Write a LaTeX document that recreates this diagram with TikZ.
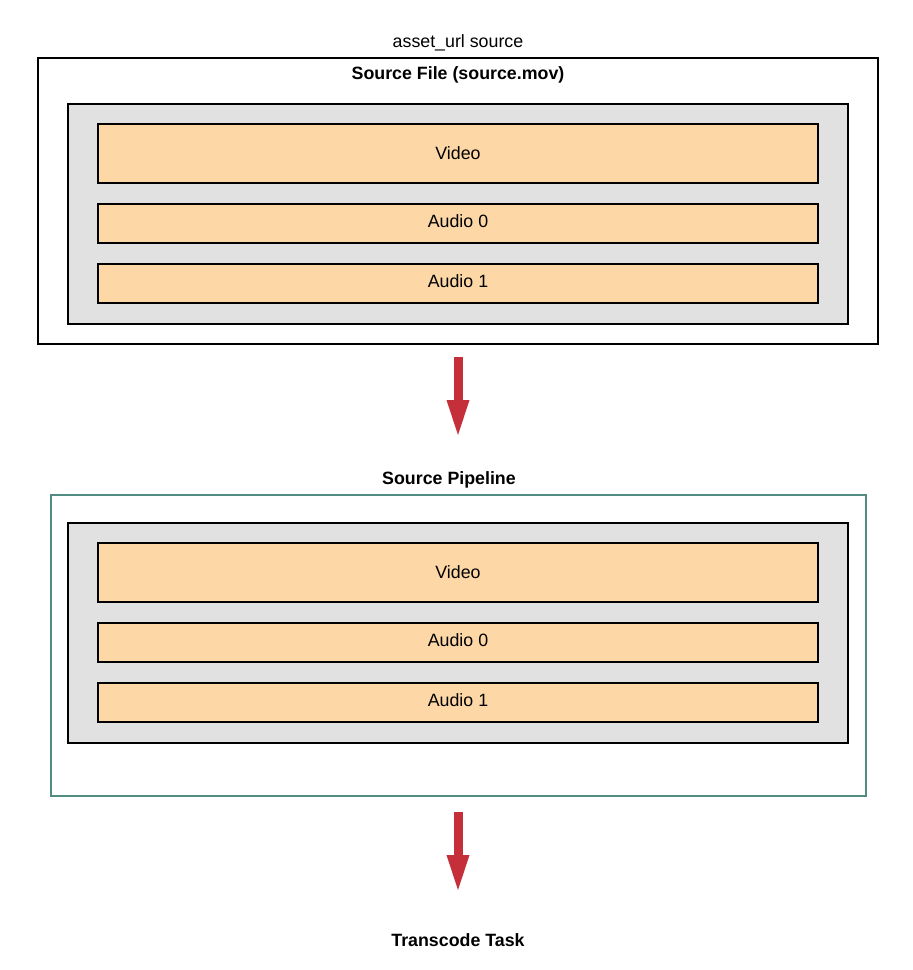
\documentclass[tikz,border=0pt]{standalone}
\usepackage{fontspec}
\setmainfont{Liberation Sans}
\usetikzlibrary{arrows.meta}
\definecolor{tan}{RGB}{253,216,166}
\definecolor{boxgray}{RGB}{225,225,225}
\definecolor{teal2}{RGB}{80,140,130}
\definecolor{arrowred}{RGB}{196,47,58}
\begin{document}
\begin{tikzpicture}[x=1pt,y=-1pt,
  every node/.style={font=\fontsize{17.8}{21}\selectfont},
  outerbox/.style={draw=black,line width=2pt,inner sep=0pt,minimum width=840pt,minimum height=286pt},
  tealbox/.style={draw=teal2,line width=1.8pt,inner sep=0pt,minimum width=815pt,minimum height=301pt},
  graybox/.style={draw=black,fill=boxgray,line width=2pt,inner sep=0pt,minimum width=780pt,minimum height=220pt},
  track/.style={draw=black,fill=tan,line width=2pt,inner sep=0pt,minimum width=720pt,text height=12.8pt,text depth=0pt},
  audiotrack/.style={track,minimum height=39pt,text depth=5pt},
  title/.style={inner sep=0pt,text height=12.8pt,text depth=0pt,anchor=base},
  redarrow/.style={draw=arrowred,line width=9pt,-{Triangle[width=23pt,length=35pt,line width=0pt]}}
]
\useasboundingbox (0,0) rectangle (913,970);
% top source file
\node[title] (asset) at (458,47) {asset\_url source};
\node[outerbox] (file) at (458,201) {};
\node[title,font=\fontsize{17.8}{21}\selectfont\bfseries] (filetitle) at (458,79) {Source File (source.mov)};
\node[graybox] (g1) at (458,214) {};
\node[track,minimum height=59pt] (v1) at (458,153.5) {Video};
\node[audiotrack] (a10) at (458,223.5) {Audio 0};
\node[audiotrack] (a11) at (458,283.5) {Audio 1};
% pipeline
\node[title,font=\fontsize{17.8}{21}\selectfont\bfseries] (pipetitle) at (449,484) {Source Pipeline};
\node[tealbox] (pipe) at (458.5,645.5) {};
\node[graybox] (g2) at (458,633) {};
\node[track,minimum height=59pt] (v2) at (458,572.5) {Video};
\node[audiotrack] (a20) at (458,642.5) {Audio 0};
\node[audiotrack] (a21) at (458,702.5) {Audio 1};
% transcode
\node[title,font=\fontsize{17.8}{21}\selectfont\bfseries] (task) at (458,946) {Transcode Task};
% arrows
\draw[redarrow,shorten <=12pt,shorten >=36pt] (file.south) -- (file.south |- pipetitle.north);
\draw[redarrow,shorten <=15pt,shorten >=43pt] (file.south |- pipe.south) -- (file.south |- task.north);
\end{tikzpicture}
\end{document}
